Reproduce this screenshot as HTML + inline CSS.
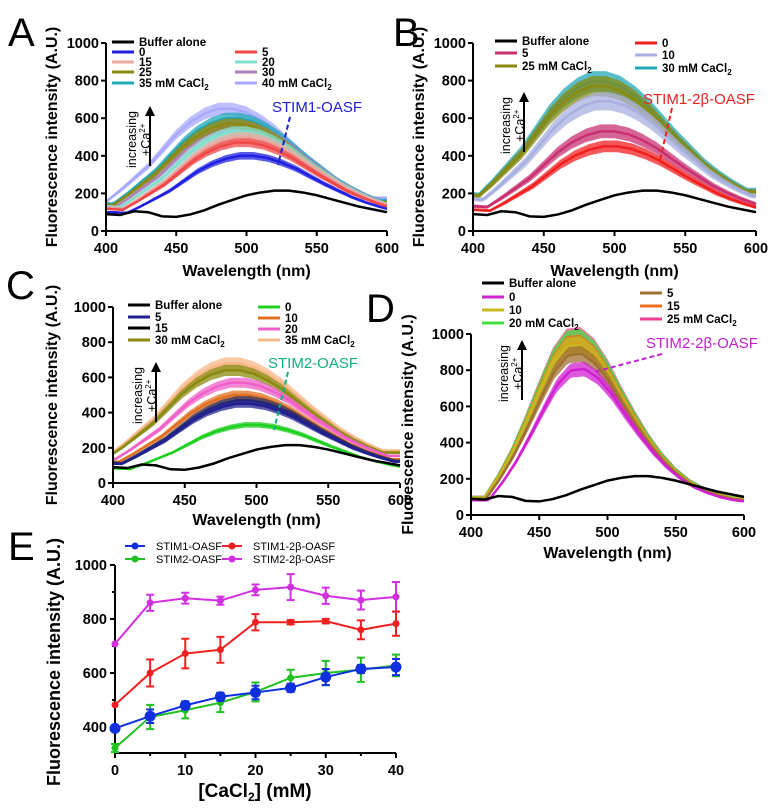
<!DOCTYPE html>
<html><head><meta charset="utf-8">
<style>
body{margin:0;background:#fff;width:778px;height:808px;overflow:hidden}
svg{display:block;font-family:"Liberation Sans",Arial,sans-serif}
.tk{font-size:14.5px;font-weight:bold}
.lg{font-size:11.5px;font-weight:bold}
.at{font-size:16px;font-weight:bold}
.pl{font-size:40px}
</style></head><body>
<svg id="fig" width="778" height="808" viewBox="0 0 778 808">
<text x="8" y="46" class="pl">A</text>
<text x="393" y="46" class="pl">B</text>
<text x="6" y="299" class="pl">C</text>
<text x="366" y="322" class="pl">D</text>
<text x="8" y="560" class="pl">E</text>
</svg>
<script>
// ---- data ----
const wavelengths=[400,410,420,430,440,450,460,470,480,490,500,510,520,530,540,550,560,570,580,590,600];
const bufferCurve=[90,85,105,100,78,75,88,110,140,165,190,205,215,215,205,190,170,150,130,115,100];
const broadShape=[0.25,0.24,0.33,0.43,0.53,0.66,0.79,0.89,0.96,1,1,0.97,0.91,0.83,0.73,0.63,0.54,0.45,0.38,0.32,0.27];
const narrowShape=[0.1,0.1,0.22,0.36,0.53,0.71,0.88,0.98,0.99,0.93,0.82,0.68,0.55,0.43,0.33,0.25,0.19,0.15,0.12,0.1,0.09];
const spectraTicksX=[400,450,500,550,600];
const spectraTicksY=[0,200,400,600,800,1000];

const aLabels=['40','35','30','25','20','15','5','0'];
const aPeaks=[650,600,560,570,530,500,470,400];
const aPeakWl=[480,485,488,485,490,492,492,495];
const aColors=['#a8a8ff','#20a8b8','#b080b8','#8a8a10','#80e0d0','#e8a8a0','#f04848','#2020e0'];

const bLabels=['30','25','10','5','0'];
const bPeaks=[795,770,690,530,450];
const bPeakWl=[484,484,487,490,492];
const bColors=['#20a8b8','#8a8a10','#a8b0e0','#c83070','#f02020'];

const cLabels=['35','30','20','10','15','5','0'];
const cPeaks=[680,640,570,500,470,450,330];
const cPeakWl=[478,478,482,484,486,486,492];
const cColors=['#f8b888','#8a8a10','#f060c8','#e07020','#303060','#202090','#20d020'];

const dLabels=['25','20','15','10','5','0'];
const dPeaks=[1000,990,960,950,900,815];
const dPeakWl=[475,475,475,475,476,478];
const dColors=['#f04090','#40e040','#f07020','#c8b820','#a07030','#d020d0'];

const eX=[0,5,10,15,20,25,30,35,40];
const eStim1=[395,440,480,512,528,545,585,615,622];
const eStim1Err=[10,25,15,15,25,15,30,15,30];
const eStim12b=[482,600,672,686,788,788,792,760,783];
const eStim12bErr=[0,50,55,48,30,8,8,35,45];
const eStim2=[322,437,462,490,530,582,600,612,628];
const eStim2Err=[15,45,30,35,35,30,45,45,40];
const eStim22b=[708,860,877,868,908,918,886,870,882];
const eStim22bErr=[0,30,20,15,20,48,30,35,55];
const eTicksX=[0,10,20,30,40];
const eTicksY=[400,600,800,1000];

const NS='http://www.w3.org/2000/svg';
const svg=document.getElementById('fig');
function mk(tag,attrs,parent,txt){const e=document.createElementNS(NS,tag);for(const k in attrs)e.setAttribute(k,attrs[k]);if(txt!==undefined)e.textContent=txt;(parent||svg).appendChild(e);return e;}
function interp(arr,w){const i=(w-400)/10;if(i<=0)return arr[0];if(i>=20)return arr[20];const a=Math.floor(i),f=i-a;return arr[a]*(1-f)+arr[a+1]*f;}

function spectraPanel(p){
  const g=mk('g',{});
  
  
  const sx=w=>p.x0+(w-400)/200*(p.x1-p.x0);
  const sy=v=>p.y0-v/1000*(p.y0-p.y1);
  for(let s=0;s<p.peaks.length;s++){
    const shift=p.peakWl[s]-p.refWl;
    const vals=[];for(let w=400;w<=600;w+=2){vals.push([w,p.peaks[s]*interp(p.shape,w-shift)]);}
    const e=p.err;
    let d='';vals.forEach((v,i)=>{d+=(i?'L':'M')+sx(v[0]).toFixed(1)+','+sy(v[1]*(1+e)).toFixed(1);});
    for(let i=vals.length-1;i>=0;i--){d+='L'+sx(vals[i][0]).toFixed(1)+','+sy(vals[i][1]*(1-e)).toFixed(1);}
    const band=mk('path',{d:d+'Z',fill:p.colors[s],opacity:0.75},g);
    
    
    let dl='';vals.forEach((v,i)=>{dl+=(i?'L':'M')+sx(v[0]).toFixed(1)+','+sy(v[1]).toFixed(1);});
    const ln=mk('path',{d:dl,fill:'none',stroke:p.colors[s],'stroke-width':2.5},g);
    
    
  }
  let db='';wavelengths.forEach((w,i)=>{db+=(i?'L':'M')+sx(w)+','+sy(bufferCurve[i]);});
  const bl=mk('path',{d:db,fill:'none',stroke:'#000','stroke-width':2.5},g);
  
  
  mk('line',{x1:p.x0,y1:p.y0,x2:p.x1,y2:p.y0,stroke:'#000','stroke-width':2},g);
  mk('line',{x1:p.x0,y1:p.y0,x2:p.x0,y2:p.y1,stroke:'#000','stroke-width':2},g);
  spectraTicksX.forEach(t=>{mk('line',{x1:sx(t),y1:p.y0,x2:sx(t),y2:p.y0+5,stroke:'#000','stroke-width':2},g);
    const tl=mk('text',{x:sx(t),y:p.y0+22,'text-anchor':'middle',class:'tk'},g,t);
    
    });
  spectraTicksY.forEach(t=>{mk('line',{x1:p.x0-5,y1:sy(t),x2:p.x0,y2:sy(t),stroke:'#000','stroke-width':2},g);
    const tl=mk('text',{x:p.x0-7,y:sy(t)+5,'text-anchor':'end',class:'tk'},g,t);
    
    });
  const xt=mk('text',{x:(p.x0+p.x1)/2,y:p.xtY,'text-anchor':'middle',class:'at'},g,'Wavelength (nm)');
  
  
  const yt=mk('text',{x:0,y:0,'text-anchor':'middle',class:'at',transform:`translate(${p.ytX},${(p.y0+p.y1)/2}) rotate(-90)`},g,'Fluorescence intensity (A.U.)');
  
  
  const ax=p.arrow[0],ay=p.arrow[1];
  mk('line',{x1:ax,y1:ay+60,x2:ax,y2:ay+4,stroke:'#000','stroke-width':2},g);
  mk('path',{d:`M${ax-5},${ay+10}L${ax},${ay}L${ax+5},${ay+10}Z`,fill:'#000'},g);
  const it=mk('text',{x:0,y:0,'font-size':'12.5px',transform:`translate(${ax-14},${ay+62}) rotate(-90)`},g);
  
  
  mk('tspan',{x:0,y:0},it,'increasing');
  mk('tspan',{x:12,dy:14},it,'+Ca');mk('tspan',{dy:-5,'font-size':'8px'},it,'2+');
  p.legend.forEach(L=>{
    mk('line',{x1:L[0],y1:L[1]-4,x2:L[0]+22,y2:L[1]-4,stroke:L[3],'stroke-width':3},g);
    const lt=mk('text',{x:L[0]+27,y:L[1],class:'lg'},g,L[2]);
    if(L[4]){mk('tspan',{'font-size':'8px',dy:3},lt,'2');}
    
    
  });
  const an=p.annot;
  mk('line',{x1:an.lx1,y1:an.ly1,x2:an.lx2,y2:an.ly2,stroke:an.c,'stroke-width':2,'stroke-dasharray':'5,3'},g);
  const atx=mk('text',{x:an.tx,y:an.ty,fill:an.c,'font-size':'15px'},g,an.t);
  
  
}

spectraPanel({name:'panel-a-spectra',x0:106,x1:387,y0:231,y1:43,xtY:276,ytX:57,refWl:490,shape:broadShape,err:0.05,
 labels:aLabels,peaks:aPeaks,peakWl:aPeakWl,colors:aColors,arrow:[150,106],
 legend:[[112,46,'Buffer alone','#000'],[112,56,'0','#2020e0'],[112,66,'15','#e8a8a0'],[112,76,'25','#8a8a10'],[112,87,'35 mM CaCl','#20a8b8',1],
   [235,56,'5','#f04848'],[235,66,'20','#80e0d0'],[235,76,'30','#b080b8'],[235,87,'40 mM CaCl','#a8a8ff',1]],
 annot:{lx1:290,ly1:117,lx2:278,ly2:165,c:'#2020d0',tx:272,ty:112,t:'STIM1-OASF'}});
spectraPanel({name:'panel-b-spectra',x0:473,x1:756,y0:231,y1:43,xtY:276,ytX:424,refWl:490,shape:broadShape,err:0.07,
 labels:bLabels,peaks:bPeaks,peakWl:bPeakWl,colors:bColors,arrow:[524,92],
 legend:[[495,45,'Buffer alone','#000'],[495,57,'5','#c83070'],[495,70,'25 mM CaCl','#8a8a10',1],
   [635,47,'0','#f02020'],[635,59,'10','#a8b0e0'],[635,72,'30 mM CaCl','#20a8b8',1]],
 annot:{lx1:672,ly1:108,lx2:660,ly2:160,c:'#f02020',tx:643,ty:104,t:'STIM1-2β-OASF'}});
spectraPanel({name:'panel-c-spectra',x0:113,x1:400,y0:483,y1:307,xtY:525,ytX:57,refWl:490,shape:broadShape,err:0.05,
 labels:cLabels,peaks:cPeaks,peakWl:cPeakWl,colors:cColors,arrow:[156,362],
 legend:[[128,309,'Buffer alone','#000'],[128,321,'5','#202090'],[128,332,'15','#000'],[128,344,'30 mM CaCl','#8a8a10',1],
   [258,311,'0','#20d020'],[258,322,'10','#e07020'],[258,333,'20','#f060c8'],[258,344,'35 mM CaCl','#f8b888',1]],
 annot:{lx1:288,ly1:372,lx2:274,ly2:430,c:'#10b080',tx:268,ty:368,t:'STIM2-OASF'}});
spectraPanel({name:'panel-d-spectra',x0:471,x1:744,y0:515,y1:334,xtY:558,ytX:413,refWl:475,shape:narrowShape,err:0.05,
 labels:dLabels,peaks:dPeaks,peakWl:dPeakWl,colors:dColors,arrow:[522,340],
 legend:[[482,287,'Buffer alone','#000'],[482,301,'0','#d020d0'],[482,314,'10','#c8b820'],[482,327,'20 mM CaCl','#40e040',1],
   [640,297,'5','#a07030'],[640,310,'15','#f07020'],[640,323,'25 mM CaCl','#f04090',1]],
 annot:{lx1:662,ly1:354,lx2:594,ly2:372,c:'#c020d0',tx:646,ty:348,t:'STIM2-2β-OASF'}});

// ---- panel E ----
(function(){
  const g=mk('g',{});
  
  
  const X0=115,X1=396,YB=753;
  const sx=v=>X0+v/40*(X1-X0);
  const sy=v=>727-(v-400)/200*54;
  mk('line',{x1:X0,y1:YB,x2:X1,y2:YB,stroke:'#000','stroke-width':2},g);
  mk('line',{x1:X0,y1:YB,x2:X0,y2:sy(1000),stroke:'#000','stroke-width':2},g);
  eTicksX.forEach(t=>{mk('line',{x1:sx(t),y1:YB,x2:sx(t),y2:YB+5,stroke:'#000','stroke-width':2},g);
    const tl=mk('text',{x:sx(t),y:YB+22,'text-anchor':'middle',class:'tk'},g,t);
    
    });
  [5,15,25,35].forEach(t=>mk('line',{x1:sx(t),y1:YB,x2:sx(t),y2:YB+3,stroke:'#000','stroke-width':2},g));
  eTicksY.forEach(t=>{mk('line',{x1:X0-5,y1:sy(t),x2:X0,y2:sy(t),stroke:'#000','stroke-width':2},g);
    const tl=mk('text',{x:X0-8,y:sy(t)+5,'text-anchor':'end',class:'tk'},g,t);
    
    });
  [500,700,900].forEach(t=>mk('line',{x1:X0-3,y1:sy(t),x2:X0,y2:sy(t),stroke:'#000','stroke-width':2},g));
  const xt=mk('text',{x:255,y:797,'text-anchor':'middle','font-size':'19px','font-weight':'bold'},g,'[CaCl');
  mk('tspan',{'font-size':'12px',dy:4},xt,'2');mk('tspan',{dy:-4},xt,'] (mM)');
  
  
  const yt=mk('text',{x:0,y:0,'text-anchor':'middle','font-size':'18px','font-weight':'bold',transform:'translate(60,662) rotate(-90)'},g,'Fluorescence  intensity (A.U.)');
  
  
  const series=[['stim2-2b',eStim22b,eStim22bErr,'#d030e0',3.5],['stim1-2b',eStim12b,eStim12bErr,'#f02020',3.5],['stim2',eStim2,eStim2Err,'#20c020',3.5],['stim1',eStim1,eStim1Err,'#1030e0',5.5]];
  series.forEach(S=>{
    const [nm,vals,err,c,r]=S;
    let d='';vals.forEach((v,i)=>{d+=(i?'L':'M')+sx(eX[i])+','+sy(v);});
    const ln=mk('path',{d:d,fill:'none',stroke:c,'stroke-width':2},g);
    
    
    vals.forEach((v,i)=>{
      if(err[i]>0){const x=sx(eX[i]);
        mk('path',{d:`M${x},${sy(v-err[i])}L${x},${sy(v+err[i])}M${x-4},${sy(v-err[i])}L${x+4},${sy(v-err[i])}M${x-4},${sy(v+err[i])}L${x+4},${sy(v+err[i])}`,stroke:c,'stroke-width':2,fill:'none'},g);}
      const pt=mk('circle',{cx:sx(eX[i]),cy:sy(v),r:r,fill:c},g);
      
      
    });
  });
  const leg=[[125,550,'#1030e0','STIM1-OASF'],[222,550,'#f02020','STIM1-2β-OASF'],[125,563,'#20c020','STIM2-OASF'],[222,563,'#d030e0','STIM2-2β-OASF']];
  leg.forEach(L=>{
    mk('line',{x1:L[0],y1:L[1]-4,x2:L[0]+20,y2:L[1]-4,stroke:L[2],'stroke-width':2},g);
    mk('circle',{cx:L[0]+10,cy:L[1]-4,r:3.5,fill:L[2]},g);
    const lt=mk('text',{x:L[0]+31,y:L[1],'font-size':'11px'},g,L[3]);
    
    
  });
})();
</script>
</body></html>
